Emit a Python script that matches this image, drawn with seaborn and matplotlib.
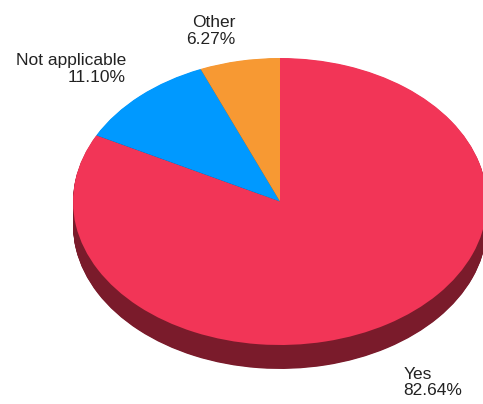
import numpy as np
import matplotlib
matplotlib.use("Agg")
import matplotlib.pyplot as plt
import seaborn as sns

# answer shares, clockwise from 12 o'clock
labels = ["Yes", "Not applicable", "Other"]
shares = [82.64, 11.10, 6.27]
top_colors = ["#F23557", "#0099FF", "#F79933"]
side_colors = ["#7A1B2B", "#004C80", "#7B4C19"]

sns.set_theme(style="white")
plt.rcParams["font.family"] = ["Liberation Sans", "DejaVu Sans"]

fig = plt.figure(figsize=(4.83, 4.04), dpi=100)
ax = fig.add_axes([0, 0, 1, 1])

# fake 3d: stack darker copies of the pie below the top face
depth = 0.167
n_layers = 40
for k in range(n_layers):
    off = -depth * (k + 1) / n_layers
    ax.pie(shares, colors=side_colors, startangle=90, counterclock=False,
           center=(0, off), wedgeprops=dict(linewidth=0))
wedges, _ = ax.pie(shares, colors=top_colors, startangle=90, counterclock=False,
                   wedgeprops=dict(linewidth=0))

# squash the circle into the tilted ellipse
ax.set_aspect("auto")
ax.set_xlim(-280 / 207, (483 - 280) / 207)
ax.set_ylim(-202.5 / 143.5, 201.5 / 143.5)
ax.axis("off")

for w, lab, val in zip(wedges, labels, shares):
    mid = np.deg2rad((w.theta1 + w.theta2) / 2)
    c, s = np.cos(mid), np.sin(mid)
    ha = "left" if c > 0 else "right"
    if s < 0:
        r = 1.15
        x, y, va = r * c, r * s - depth, "top"
    else:
        r = 1.1
        x, y, va = r * c, r * s, "bottom"
    ax.text(x, y, f"{lab}\n{val:.2f}%", ha=ha, va=va, fontsize=12.5,
            color="#222222", linespacing=1.15,
            multialignment="right" if ha == "right" else "left")

fig.savefig("out.png", dpi=100)
